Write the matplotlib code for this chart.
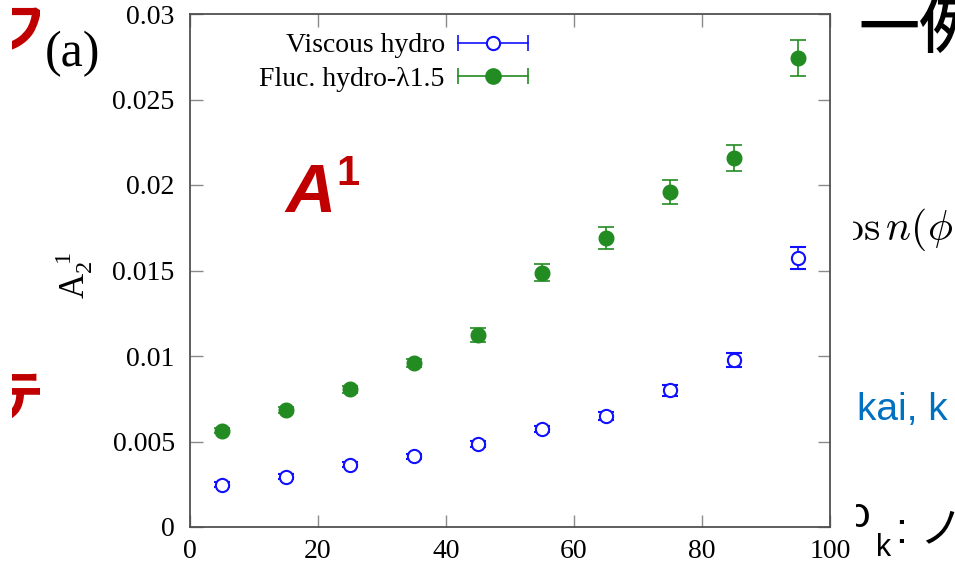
import matplotlib
matplotlib.use("Agg")
import matplotlib.pyplot as plt
from matplotlib.lines import Line2D
from matplotlib.legend_handler import HandlerLine2D, HandlerTuple
from matplotlib.transforms import Bbox, TransformedBbox

# ---- data ----
centrality = [5, 15, 25, 35, 45, 55, 65, 75, 85, 95]
viscous = [0.00246, 0.00294, 0.00364, 0.00413, 0.00485, 0.00573, 0.00649, 0.00799, 0.00977, 0.01571]
viscous_err = [0.00015, 0.00015, 0.00015, 0.00015, 0.0002, 0.0002, 0.00025, 0.0003, 0.0004, 0.00064]
fluc = [0.00563, 0.00684, 0.00805, 0.00959, 0.01123, 0.01487, 0.01688, 0.01961, 0.02156, 0.02741]
fluc_err = [0.00015, 0.00015, 0.0002, 0.00025, 0.0004, 0.0005, 0.00065, 0.0007, 0.00075, 0.00105]
xticks = [0, 20, 40, 60, 80, 100]
yticks = [0, 0.005, 0.01, 0.015, 0.02, 0.025, 0.03]
ytick_labels = ["0", "0.005", "0.01", "0.015", "0.02", "0.025", "0.03"]
labels = ["Viscous hydro", "Fluc. hydro-λ1.5"]

BLUE = "#1010ff"
GREEN = "#228b22"
SERIF = "Liberation Serif"

plt.rcParams["mathtext.fontset"] = "custom"
plt.rcParams["mathtext.rm"] = SERIF
plt.rcParams["mathtext.it"] = SERIF + ":italic"

fig = plt.figure(figsize=(9.55, 5.75), dpi=100)
ax = fig.add_axes([190 / 955, 48 / 575, 640 / 955, 513 / 575])

ax.errorbar(centrality, viscous, yerr=viscous_err, fmt="o", color=BLUE,
            mfc="white", mec=BLUE, ms=9.5, mew=1.5, elinewidth=1.2,
            capsize=5.5, capthick=1.2, zorder=3)
ax.errorbar(centrality, fluc, yerr=fluc_err, fmt="o", color=GREEN,
            mfc=GREEN, mec=GREEN, ms=10.5, elinewidth=1.2,
            capsize=5.5, capthick=1.2, zorder=3)

ax.set_xlim(0, 100)
ax.set_ylim(0, 0.03)
ax.set_xticks(xticks)
ax.set_xticklabels([str(v) for v in xticks], fontfamily=SERIF, fontsize=20)
ax.set_yticks(yticks)
ax.set_yticklabels(ytick_labels, fontfamily=SERIF, fontsize=20)
ax.tick_params(direction="in", length=9, width=1.0, color="#8a8a8a",
               top=True, right=True)
ax.tick_params(axis="y", pad=11)
ax.tick_params(axis="x", pad=9)
for s in ax.spines.values():
    s.set_color("#505050")
    s.set_linewidth(1.3)

ax.set_ylabel(r"A$_2^{\ \,1}$", fontfamily=SERIF, fontsize=25)
ax.yaxis.set_label_coords(-0.148, 0.49)

# legend (gnuplot style: text right-aligned, sample on the right)
handles = []
hmap = {}
for col, filled in [(BLUE, False), (GREEN, True)]:
    bar = Line2D([], [], color=col, lw=1.2, marker="|", ms=12, mew=1.2)
    mk = Line2D([], [], ls="none", marker="o", color=col,
                mfc=col if filled else "white", mec=col,
                ms=10.5 if filled else 9.5, mew=1.5)
    hmap[bar] = HandlerLine2D(numpoints=2, marker_pad=0)
    hmap[mk] = HandlerLine2D(numpoints=1)
    tup = (bar, mk)
    hmap[tup] = HandlerTuple(ndivide=1)
    handles.append(tup)
leg = ax.legend(handles, labels, handler_map=hmap, loc="upper center",
                bbox_to_anchor=(0.318, 0.963), frameon=False, markerfirst=False,
                handlelength=2.5, handletextpad=0.48, labelspacing=0.3,
                borderpad=0, borderaxespad=0,
                prop={"family": SERIF, "size": 20})

# panel letter and overlay label
fig.text(45 / 955, 1 - 54 / 575, "(a)", fontfamily=SERIF, fontsize=36,
         va="center", ha="left")
ax.text(285 / 955, 1 - 212 / 575, "A", transform=fig.transFigure,
        fontfamily="Liberation Sans", fontsize=50, fontweight="bold",
        fontstyle="italic", color="#c00000", ha="left", va="baseline")
ax.text(336 / 955, 1 - 185 / 575, "1", transform=fig.transFigure,
        fontfamily="Liberation Sans", fontsize=30, fontweight="bold",
        color="#c00000", ha="left", va="baseline")

# slide fragments around the chart
def clipped(x, y, s, box, **kw):
    t = fig.text(x / 955, 1 - y / 575, s, **kw)
    bb = TransformedBbox(Bbox([[box[0] / 955, 0], [box[1] / 955, 1]]), fig.transFigure)
    t.set_clip_box(bb)
    t.set_clip_on(True)
    return t

cjk = ["Noto Sans CJK JP", "DejaVu Sans"]
clipped(-8, 32, "フ", (12, 40), family=cjk, fontsize=40,
        fontweight="bold", color="#c00000", va="center", ha="left")
clipped(-10, 400, "テ", (12, 40), family=cjk, fontsize=40,
        fontweight="bold", color="#c00000", va="center", ha="left")
clipped(858, 30, "一例", (853, 955), family=cjk, fontsize=44,
        fontweight="medium", color="black", va="center", ha="left")
plt.rcParams["mathtext.fontset"] = "cm"
clipped(824, 240, r"$\cos n(\phi$", (853, 955), fontsize=30,
        color="black", va="baseline", ha="left")
clipped(857, 420, "kai, k", (853, 955), family="Liberation Sans", fontsize=28,
        color="#0070c0", va="baseline", ha="left")
clipped(846, 527, "ρ", (856, 955), family="Liberation Sans", fontsize=30,
        color="black", va="baseline", ha="left")
clipped(876, 556, "k", (853, 955), family="Liberation Sans", fontsize=22,
        color="black", va="baseline", ha="left")
clipped(896, 542, ": ノ", (853, 955), family=["Liberation Sans", "Noto Sans CJK JP"],
        fontsize=31, color="black", va="baseline", ha="left")

fig.savefig("out.png", dpi=100)
